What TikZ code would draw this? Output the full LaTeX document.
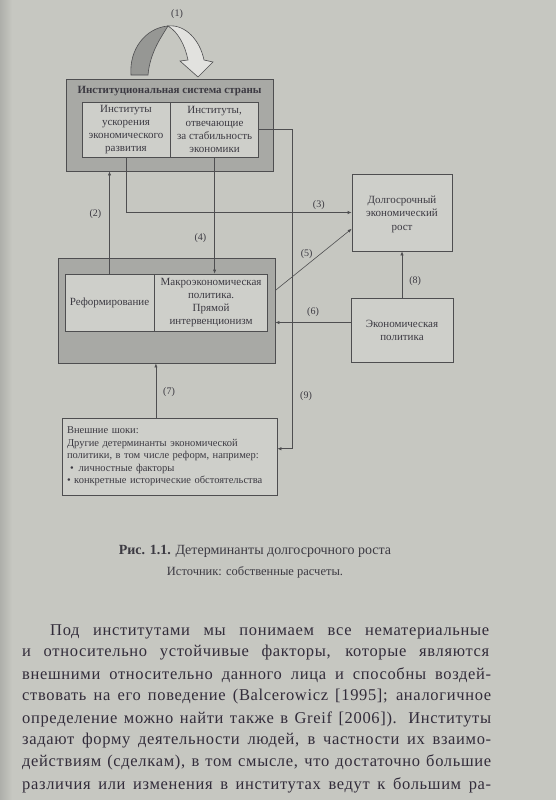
\documentclass[tikz,border=0pt]{standalone}
\usepackage{fontspec}
\setmainfont{Liberation Serif}
\newfontfamily\bodyfont[LetterSpace=4]{Liberation Serif}
\usepackage{xcolor}
\usetikzlibrary{positioning, calc, arrows.meta}

\definecolor{pagegray}{RGB}{198,199,193}
\definecolor{boxgray}{RGB}{168,169,165}
\definecolor{cellgray}{RGB}{206,207,202}
\definecolor{twistgray}{RGB}{150,151,148}
\definecolor{inkgray}{RGB}{60,58,66}
\definecolor{bodyink}{RGB}{50,44,58}
\definecolor{linegray}{RGB}{78,78,80}

\begin{document}
\begin{tikzpicture}[x=1pt, y=-1pt,
    outer_box/.style={rectangle, draw=linegray, line width=0.7pt, fill=boxgray},
    cell_box/.style={rectangle, draw=linegray, line width=0.6pt, fill=cellgray, align=center, inner sep=2pt, font=\fontsize{11}{12.8}\selectfont, text=inkgray},
    plain_box/.style={rectangle, draw=linegray, line width=0.6pt, fill=cellgray, align=center, font=\fontsize{11}{13.5}\selectfont, text=inkgray},
    link_arrow/.style={-{Latex[length=4pt,width=3.2pt]}, line width=0.6pt, draw=linegray},
    num_label/.style={font=\fontsize{10}{12}\selectfont, text=inkgray, inner sep=0pt},
    body_line/.style={font=\bodyfont\fontsize{16.5}{20}\selectfont, text=bodyink, inner sep=0pt, anchor=west}
]
    % страница
    \fill[pagegray] (0,0) rectangle (556,800);
    \shade[left color=pagegray!88!black, right color=pagegray] (0,0) rectangle (12,800);
    \useasboundingbox (0,0) rectangle (556,800);

    % (1) -- петля над институциональной системой
    \filldraw[fill=twistgray, draw=linegray, line width=0.6pt] (131,75) .. controls (129,50) and (145,28) .. (168,26) .. controls (162,36) and (150,52) .. (148,75) -- cycle;
    \filldraw[fill=cellgray!60!white, draw=linegray, line width=0.6pt] (168,26) .. controls (185,24) and (200,40) .. (204,60) -- (213,62) -- (198,77) -- (180,61) -- (188,60) .. controls (185,45) and (178,32) .. (168,26) -- cycle;
    \node[num_label] (loop_label) at (177,14) {(1)};

    % институциональная система
    \node[outer_box, minimum width=207pt, minimum height=92pt] (inst) at (169.5,125) {};
    \node[text=inkgray, inner sep=0pt, font=\fontsize{11}{13}\selectfont\bfseries] (inst_title) at (169.5,91) {Институциональная система страны};
    \node[cell_box, minimum width=88pt, minimum height=55pt] (accel) at (126,129.5) {Институты\\ускорения\\экономического\\развития};
    \node[cell_box, minimum width=88pt, minimum height=55pt, right=0pt of accel] (stab) {Институты,\\отвечающие\\за стабильность\\экономики};

    % политика
    \node[outer_box, minimum width=217pt, minimum height=105pt] (policy) at (166.5,310.5) {};
    \node[cell_box, minimum width=89pt, minimum height=57pt] (reform) at (109.5,302.5) {Реформирование};
    \node[cell_box, minimum width=113pt, minimum height=57pt, right=0pt of reform] (macro) {Макроэкономическая\\политика.\\Прямой\\интервенционизм};

    % рост и экономическая политика
    \node[plain_box, minimum width=100pt, minimum height=77pt] (growth) at (402,212.5) {\\[-3pt]Долгосрочный\\экономический\\рост};
    \node[plain_box, minimum width=102pt, minimum height=64pt, below=47pt of growth] (econ) {Экономическая\\политика};

    % внешние шоки
    \node[plain_box, align=left, text width=205pt, minimum height=77pt, inner sep=5pt, font=\fontsize{10.5}{12.5}\selectfont] (shocks) at (169.5,456.5) {Внешние шоки:\\Другие детерминанты экономической\\политики, в том числе реформ, например:\\\hspace*{3pt}\textbullet\hspace{5pt}личностные факторы\\\textbullet\ конкретные исторические обстоятельства};

    % связи
    \draw[link_arrow] (reform.north) -- node[num_label, pos=0.58, left=8pt] {(2)} (reform.north |- inst.south);
    \draw[link_arrow] (accel.south) |- node[num_label, pos=0.927, above=3pt] {(3)} (growth.west);
    \draw[link_arrow] (stab.south) -- node[num_label, pos=0.69, left=8pt] {(4)} (stab.south |- macro.north);
    \coordinate (p5) at ($(policy.north east)!0.31!(policy.south east)$);
    \coordinate (g5) at ($(growth.north west)!0.71!(growth.south west)$);
    \draw[link_arrow] (p5) -- node[num_label, pos=0.5, above left=1pt] {(5)} (g5);
    \coordinate (e6) at ($(econ.north west)!0.375!(econ.south west)$);
    \draw[link_arrow] (e6) -- node[num_label, pos=0.5, above=6pt] {(6)} (e6 -| policy.east);
    \coordinate (s7) at ($(shocks.north west)!0.437!(shocks.north east)$);
    \draw[link_arrow] (s7) -- node[num_label, pos=0.47, right=7pt] {(7)} (s7 |- policy.south);
    \draw[link_arrow] (econ.north) -- node[num_label, pos=0.36, right=7pt] {(8)} (econ.north |- growth.south);
    \coordinate (k9) at ($(shocks.north east)!0.4!(shocks.south east)$);
    \draw[link_arrow] (stab.east) -- ++(33,0) |- node[num_label, pos=0.418, right=8pt] {(9)} (k9);

    % подпись
    \node[font=\fontsize{14}{16}\selectfont, text=inkgray, inner sep=0pt] (caption) at (255,551) {\textbf{Рис. 1.1.} Детерминанты долгосрочного роста};
    \node[font=\fontsize{12.5}{14}\selectfont, text=inkgray, inner sep=0pt, below=9pt of caption] (source) {Источник: собственные расчеты.};

    % текст страницы
    \foreach \txt/\xx/\yy/\ww [count=\i] in {
        {Под институтами мы понимаем все нематериальные}/50/632/439,
        {и относительно устойчивые факторы, которые являются}/22/653/467,
        {внешними относительно данного лица и способны воздей-}/22/675/469,
        {ствовать на его поведение (Balcerowicz [1995]; аналогичное}/22/697/469,
        {определение можно найти также в Greif [2006]). Институты}/22/719/469,
        {задают форму деятельности людей, в частности их взаимо-}/22/741/469,
        {действиям (сделкам), в том смысле, что достаточно большие}/22/762/469,
        {различия или изменения в институтах ведут к большим ра-}/22/785/469}
        \node[body_line] (line\i) at (\xx,\yy) {\makebox[\ww pt][s]{\txt}};
\end{tikzpicture}
\end{document}
